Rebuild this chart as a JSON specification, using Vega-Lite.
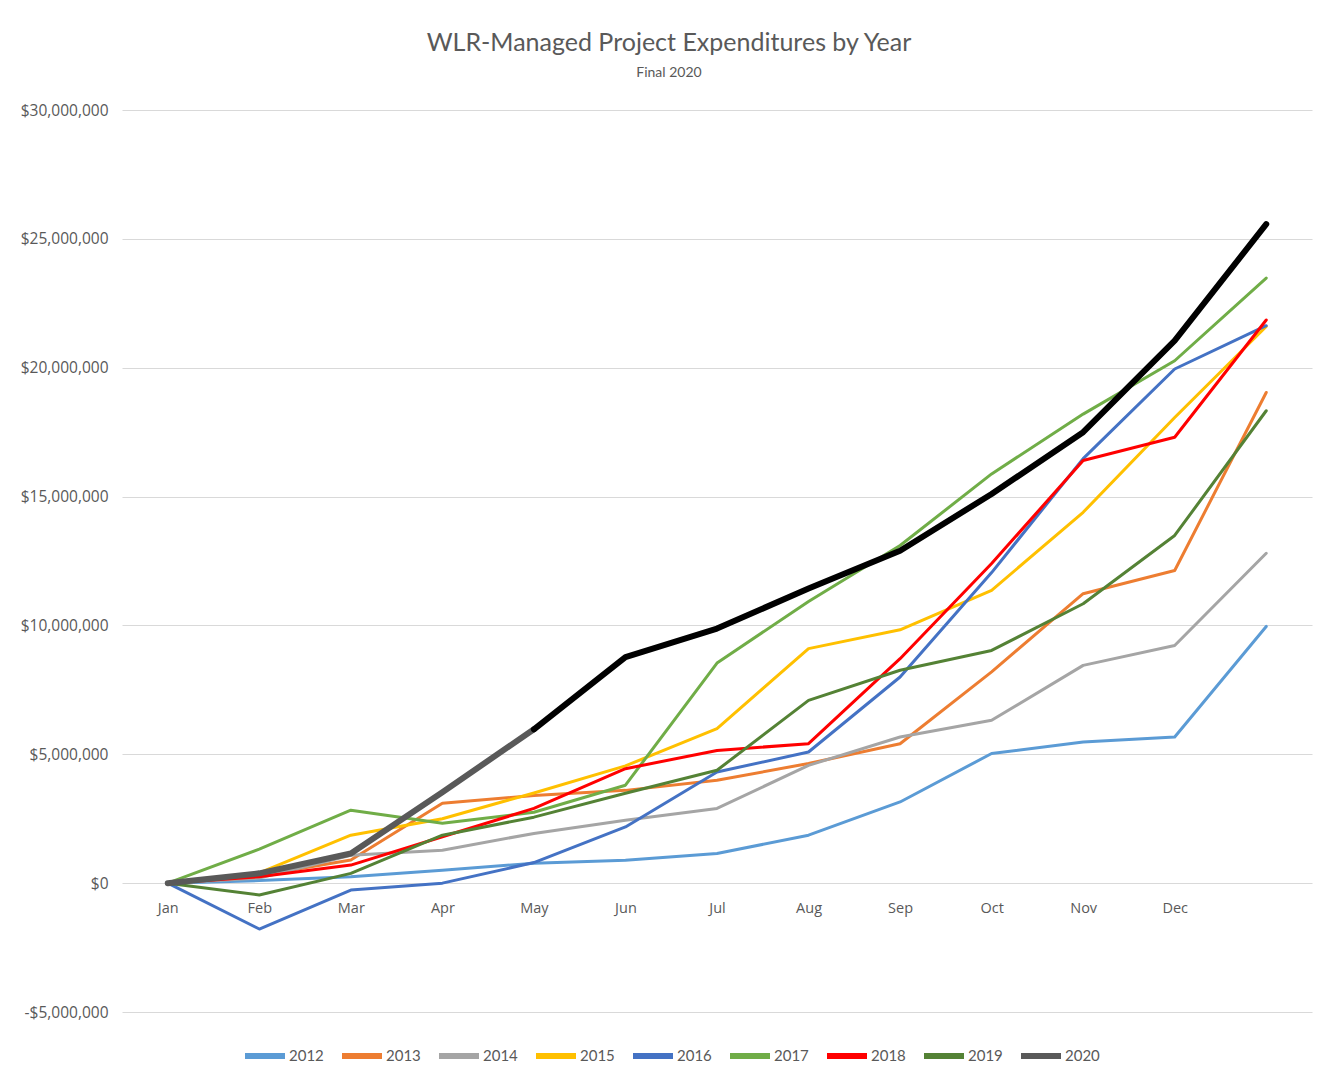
{
  "$schema": "https://vega.github.io/schema/vega-lite/v6.json",
  "autosize": "none",
  "width": 1190,
  "height": 902,
  "padding": {"left": 122, "top": 110, "right": 26, "bottom": 70},
  "background": "white",
  "title": {
    "text": "WLR-Managed Project Expenditures by Year",
    "subtitle": "Final 2020",
    "anchor": "middle",
    "dx": -48,
    "offset": 23,
    "font": "Lato",
    "fontSize": 25,
    "fontWeight": "normal",
    "color": "#595959",
    "subtitleFont": "Lato",
    "subtitleFontSize": 14,
    "subtitleColor": "#595959",
    "subtitlePadding": 10
  },
  "config": {"view": {"stroke": null}},
  "data": {"values": [
    {"month":"Jan","year":"2012","value":0},{"month":"Feb","year":"2012","value":100000},{"month":"Mar","year":"2012","value":250000},{"month":"Apr","year":"2012","value":500000},{"month":"May","year":"2012","value":770000},{"month":"Jun","year":"2012","value":890000},{"month":"Jul","year":"2012","value":1150000},{"month":"Aug","year":"2012","value":1860000},{"month":"Sep","year":"2012","value":3150000},{"month":"Oct","year":"2012","value":5030000},{"month":"Nov","year":"2012","value":5480000},{"month":"Dec","year":"2012","value":5670000},{"month":"End","year":"2012","value":9960000},
    {"month":"Jan","year":"2013","value":0},{"month":"Feb","year":"2013","value":300000},{"month":"Mar","year":"2013","value":900000},{"month":"Apr","year":"2013","value":3100000},{"month":"May","year":"2013","value":3400000},{"month":"Jun","year":"2013","value":3600000},{"month":"Jul","year":"2013","value":3990000},{"month":"Aug","year":"2013","value":4640000},{"month":"Sep","year":"2013","value":5410000},{"month":"Oct","year":"2013","value":8200000},{"month":"Nov","year":"2013","value":11230000},{"month":"Dec","year":"2013","value":12130000},{"month":"End","year":"2013","value":19040000},
    {"month":"Jan","year":"2014","value":0},{"month":"Feb","year":"2014","value":200000},{"month":"Mar","year":"2014","value":1080000},{"month":"Apr","year":"2014","value":1280000},{"month":"May","year":"2014","value":1930000},{"month":"Jun","year":"2014","value":2440000},{"month":"Jul","year":"2014","value":2900000},{"month":"Aug","year":"2014","value":4570000},{"month":"Sep","year":"2014","value":5670000},{"month":"Oct","year":"2014","value":6320000},{"month":"Nov","year":"2014","value":8450000},{"month":"Dec","year":"2014","value":9220000},{"month":"End","year":"2014","value":12800000},
    {"month":"Jan","year":"2015","value":0},{"month":"Feb","year":"2015","value":400000},{"month":"Mar","year":"2015","value":1860000},{"month":"Apr","year":"2015","value":2500000},{"month":"May","year":"2015","value":3500000},{"month":"Jun","year":"2015","value":4550000},{"month":"Jul","year":"2015","value":6000000},{"month":"Aug","year":"2015","value":9100000},{"month":"Sep","year":"2015","value":9830000},{"month":"Oct","year":"2015","value":11360000},{"month":"Nov","year":"2015","value":14390000},{"month":"Dec","year":"2015","value":18070000},{"month":"End","year":"2015","value":21600000},
    {"month":"Jan","year":"2016","value":0},{"month":"Feb","year":"2016","value":-1780000},{"month":"Mar","year":"2016","value":-270000},{"month":"Apr","year":"2016","value":0},{"month":"May","year":"2016","value":800000},{"month":"Jun","year":"2016","value":2180000},{"month":"Jul","year":"2016","value":4310000},{"month":"Aug","year":"2016","value":5090000},{"month":"Sep","year":"2016","value":8000000},{"month":"Oct","year":"2016","value":12050000},{"month":"Nov","year":"2016","value":16470000},{"month":"Dec","year":"2016","value":19950000},{"month":"End","year":"2016","value":21630000},
    {"month":"Jan","year":"2017","value":0},{"month":"Feb","year":"2017","value":1320000},{"month":"Mar","year":"2017","value":2830000},{"month":"Apr","year":"2017","value":2320000},{"month":"May","year":"2017","value":2750000},{"month":"Jun","year":"2017","value":3800000},{"month":"Jul","year":"2017","value":8540000},{"month":"Aug","year":"2017","value":10930000},{"month":"Sep","year":"2017","value":13100000},{"month":"Oct","year":"2017","value":15880000},{"month":"Nov","year":"2017","value":18200000},{"month":"Dec","year":"2017","value":20270000},{"month":"End","year":"2017","value":23480000},
    {"month":"Jan","year":"2018","value":0},{"month":"Feb","year":"2018","value":250000},{"month":"Mar","year":"2018","value":700000},{"month":"Apr","year":"2018","value":1800000},{"month":"May","year":"2018","value":2900000},{"month":"Jun","year":"2018","value":4440000},{"month":"Jul","year":"2018","value":5150000},{"month":"Aug","year":"2018","value":5410000},{"month":"Sep","year":"2018","value":8710000},{"month":"Oct","year":"2018","value":12400000},{"month":"Nov","year":"2018","value":16400000},{"month":"Dec","year":"2018","value":17300000},{"month":"End","year":"2018","value":21850000},
    {"month":"Jan","year":"2019","value":0},{"month":"Feb","year":"2019","value":-460000},{"month":"Mar","year":"2019","value":380000},{"month":"Apr","year":"2019","value":1860000},{"month":"May","year":"2019","value":2560000},{"month":"Jun","year":"2019","value":3490000},{"month":"Jul","year":"2019","value":4380000},{"month":"Aug","year":"2019","value":7090000},{"month":"Sep","year":"2019","value":8260000},{"month":"Oct","year":"2019","value":9030000},{"month":"Nov","year":"2019","value":10840000},{"month":"Dec","year":"2019","value":13490000},{"month":"End","year":"2019","value":18330000},
    {"month":"Jan","year":"2020","value":0},{"month":"Feb","year":"2020","value":380000},{"month":"Mar","year":"2020","value":1150000},{"month":"Apr","year":"2020","value":3530000},{"month":"May","year":"2020","value":5970000},
    {"month":"May","year":"2020 Final","value":5970000},{"month":"Jun","year":"2020 Final","value":8770000},{"month":"Jul","year":"2020 Final","value":9880000},{"month":"Aug","year":"2020 Final","value":11430000},{"month":"Sep","year":"2020 Final","value":12900000},{"month":"Oct","year":"2020 Final","value":15100000},{"month":"Nov","year":"2020 Final","value":17500000},{"month":"Dec","year":"2020 Final","value":21050000},{"month":"End","year":"2020 Final","value":25570000}
  ]},
  "mark": {"type": "line", "strokeCap": "round", "strokeJoin": "round"},
  "encoding": {
    "x": {
      "field": "month",
      "type": "ordinal",
      "sort": ["Jan","Feb","Mar","Apr","May","Jun","Jul","Aug","Sep","Oct","Nov","Dec","End"],
      "scale": {"type": "point", "padding": 0.5},
      "axis": {
        "title": null,
        "offset": -129,
        "domain": false,
        "ticks": false,
        "grid": false,
        "labelAngle": 0,
        "labelPadding": 18,
        "labelFont": "Open Sans",
        "labelFontSize": 14.5,
        "labelColor": "#595959",
        "labelExpr": "datum.value == 'End' ? '' : datum.value"
      }
    },
    "y": {
      "field": "value",
      "type": "quantitative",
      "scale": {"domain": [-5000000, 30000000], "nice": false, "zero": false},
      "axis": {
        "title": null,
        "values": [-5000000, 0, 5000000, 10000000, 15000000, 20000000, 25000000, 30000000],
        "domain": false,
        "ticks": false,
        "gridColor": "#d9d9d9",
        "gridWidth": 1,
        "labelPadding": 14,
        "labelFont": "Open Sans",
        "labelFontSize": 15.5,
        "labelColor": "#595959",
        "labelExpr": "datum.value < 0 ? '-' + format(-datum.value, '$,.0f') : format(datum.value, '$,.0f')"
      }
    },
    "color": {
      "field": "year",
      "type": "nominal",
      "scale": {
        "domain": ["2012","2013","2014","2015","2016","2017","2018","2019","2020","2020 Final"],
        "range": ["#5B9BD5","#ED7D31","#A5A5A5","#FFC000","#4472C4","#70AD47","#FF0000","#548235","#595959","#000000"]
      },
      "legend": {
        "title": null,
        "values": ["2012","2013","2014","2015","2016","2017","2018","2019","2020"],
        "orient": "none",
        "direction": "horizontal",
        "legendX": 120,
        "legendY": 923,
        "symbolType": "stroke",
        "symbolSize": 1600,
        "symbolStrokeWidth": 6,
        "labelFont": "Lato",
        "labelFontSize": 15,
        "labelColor": "#595959",
        "labelOffset": 1,
        "columnPadding": 6
      }
    },
    "strokeWidth": {
      "condition": {"test": "datum.year == '2020' || datum.year == '2020 Final'", "value": 6},
      "value": 3
    }
  }
}
